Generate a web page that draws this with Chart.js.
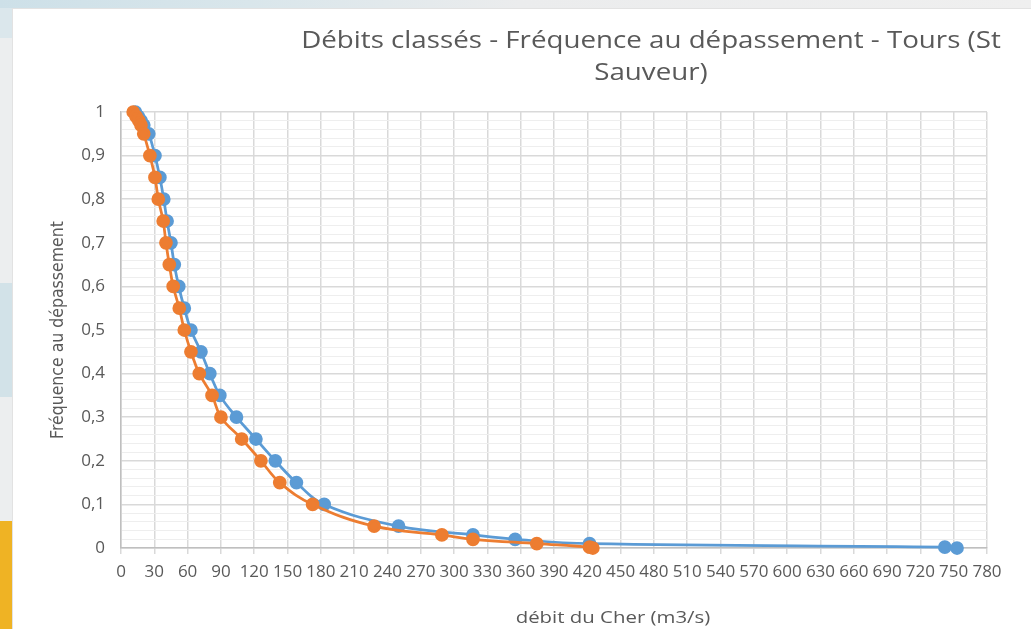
<!DOCTYPE html>
<html>
<head>
<meta charset="utf-8">
<script src="https://cdn.jsdelivr.net/npm/chart.js@4.4.1/dist/chart.umd.min.js"></script>
<style>
    html, body { margin: 0; padding: 0; }
    body { width: 1031px; height: 629px; overflow: hidden; position: relative; background: #eceeef; }
    .top-band { position: absolute; left: 0; top: 0; width: 1031px; height: 10px; background: linear-gradient(to right, #cde0e8 0, #d9e6eb 250px, #ebeced 520px, #efefef 1031px); }
    .side-blue { position: absolute; left: 0; top: 283px; width: 12px; height: 114px; background: #d2e2e8; }
    .side-blue-top { position: absolute; left: 0; top: 8px; width: 12px; height: 30px; background: #dbe7ec; }
    .side-orange { position: absolute; left: 0; top: 521px; width: 12px; height: 108px; background: #efb324; }
    .panel { position: absolute; left: 12px; top: 8px; right: 0; bottom: 0; background: #fff; border-top: 1px solid #e2e2e2; border-left: 1px solid #e2e2e2; }
    #chart { position: absolute; left: 0; top: 0; }
</style>
</head>
<body>
<div class="top-band"></div>
<div class="side-blue-top"></div>
<div class="side-blue"></div>
<div class="side-orange"></div>
<div class="panel"></div>
<canvas id="chart" width="1031" height="629"></canvas>
<script>
// fréquence au dépassement (axe y) et débit (m3/s, axe x) pour chaque série
const freqBlue = [1, 0.99, 0.98, 0.97, 0.95, 0.9, 0.85, 0.8, 0.75, 0.7, 0.65, 0.6, 0.55, 0.5, 0.45, 0.4, 0.35, 0.3, 0.25, 0.2, 0.15, 0.1, 0.05, 0.03, 0.02, 0.01, 0.002, 0];
const debitBlue = [13, 15.5, 18, 20.5, 25, 30.6, 35, 38.5, 41.5, 45, 48, 52, 57, 63, 72, 80, 89, 104, 121.5, 139, 158, 183, 250, 317, 355, 422, 742, 753];

const freqOrange = [1, 0.99, 0.98, 0.97, 0.95, 0.9, 0.85, 0.8, 0.75, 0.7, 0.65, 0.6, 0.55, 0.5, 0.45, 0.4, 0.35, 0.3, 0.25, 0.2, 0.15, 0.1, 0.05, 0.03, 0.02, 0.01, 0.002, 0];
const debitOrange = [11, 13.5, 16, 18, 20.5, 26, 30.6, 33.6, 38, 40.5, 43.5, 47, 52.5, 57, 63, 70.5, 82, 90, 108.7, 126, 143, 172.6, 228, 289, 317, 374.5, 422, 425];

const xMin = 0, xMax = 780, xStep = 30;
const yMin = 0, yMax = 1, yStep = 0.02, yMajor = 0.1;

const titleLines = ['Débits classés - Fréquence au dépassement - Tours (St', 'Sauveur)'];
const xTitle = 'débit du Cher (m3/s)';
const yTitle = 'Fréquence au dépassement';

const toPoints = (xs, ys) => xs.map((x, i) => ({ x, y: ys[i] }));
const isMajor = v => Math.abs(v / yMajor - Math.round(v / yMajor)) < 1e-6;
const textGray = '#595959';
const font = "'Open Sans', 'DejaVu Sans', sans-serif";

// texte étiré horizontalement, comme la capture d'Excel
function stretchedText(ctx, text, cx, cy, sx) {
    ctx.save();
    ctx.translate(cx, cy);
    ctx.scale(sx, 1);
    ctx.fillText(text, 0, 0);
    ctx.restore();
}

// titre et titre d'axe x, décalés à droite comme dans Excel
const excelTitles = {
    id: 'excelTitles',
    afterDraw(chart) {
        const ctx = chart.ctx;
        ctx.save();
        ctx.fillStyle = textGray;
        ctx.textAlign = 'center';
        ctx.textBaseline = 'middle';
        ctx.font = '24px ' + font;
        titleLines.forEach((t, i) => stretchedText(ctx, t, 651, 41 + i * 32, 1.155));
        ctx.font = '17px ' + font;
        stretchedText(ctx, xTitle, 613, 618, 1.2);
        ctx.restore();
    }
};

new Chart(document.getElementById('chart'), {
    type: 'scatter',
    data: {
        datasets: [
            {
                label: 'Série 2',
                data: toPoints(debitOrange, freqOrange),
                showLine: true,
                borderColor: '#ed7d31',
                backgroundColor: '#ed7d31',
                borderWidth: 2.75,
                pointRadius: 5.5,
                pointHoverRadius: 5.5,
                tension: 0.4,
                clip: false,
            },
            {
                label: 'Série 1',
                data: toPoints(debitBlue, freqBlue),
                showLine: true,
                borderColor: '#5b9bd5',
                backgroundColor: '#5b9bd5',
                borderWidth: 2.75,
                pointRadius: 5.5,
                pointHoverRadius: 5.5,
                tension: 0.4,
                clip: false,
            },
        ],
    },
    options: {
        responsive: false,
        animation: false,
        devicePixelRatio: 1,
        layout: { padding: { left: 48, right: 44, top: 112, bottom: 0 } },
        plugins: {
            legend: { display: false },
            title: { display: false },
            tooltip: { enabled: false },
        },
        scales: {
            x: {
                type: 'linear',
                min: xMin,
                max: xMax,
                afterFit: s => { s.height = 81; },
                ticks: {
                    stepSize: xStep,
                    autoSkip: false,
                    maxRotation: 0,
                    color: textGray,
                    padding: 8,
                    font: { family: font, size: 17 },
                },
                grid: { color: '#d9d9d9', lineWidth: 1.5, tickLength: 6 },
                border: { color: '#bfbfbf', width: 1.5 },
            },
            y: {
                type: 'linear',
                min: yMin,
                max: yMax,
                afterFit: s => { s.width = 73; },
                ticks: {
                    stepSize: yStep,
                    autoSkip: false,
                    color: textGray,
                    padding: 16,
                    font: { family: font, size: 17 },
                    callback: v => isMajor(v) ? String(Math.round(v * 10) / 10).replace('.', ',') : '',
                },
                grid: {
                    drawTicks: false,
                    color: c => isMajor(c.tick.value) ? '#d9d9d9' : '#eeeeee',
                    lineWidth: c => isMajor(c.tick.value) ? 1.5 : 1,
                },
                border: { color: '#bfbfbf', width: 1.5 },
                title: {
                    display: true,
                    text: yTitle,
                    color: textGray,
                    padding: 0,
                    font: { family: "'DejaVu Sans Condensed', 'Liberation Sans Narrow', sans-serif", size: 17.5 },
                },
            },
        },
    },
    plugins: [excelTitles],
});
</script>
</body>
</html>
